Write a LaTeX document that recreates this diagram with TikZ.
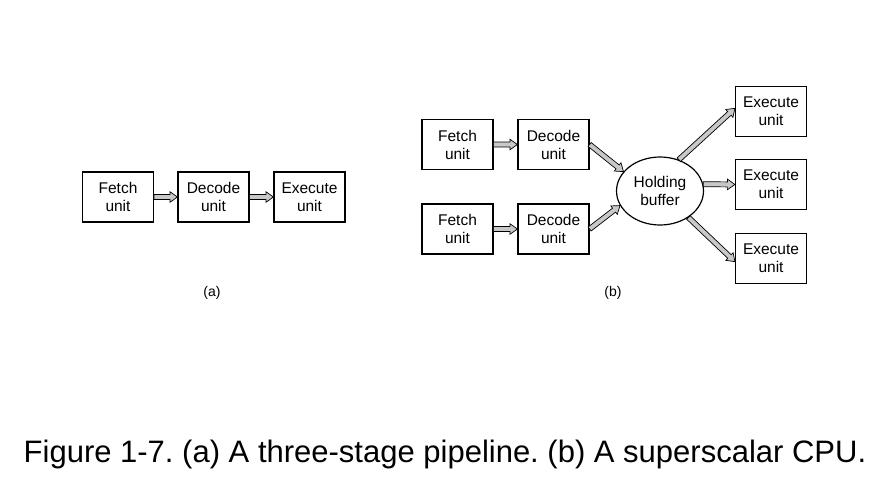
\documentclass[tikz,border=0pt]{standalone}
\usepackage{fontspec}
\setmainfont{Liberation Sans}
\usetikzlibrary{calc,shapes.geometric}
\definecolor{arrowgray}{RGB}{200,200,200}
\frenchspacing
\tikzset{
  unitbox/.style={draw=black, line width=1.2pt, minimum width=71pt, minimum height=50pt, inner sep=0pt, align=center, font=\fontsize{15.5}{18}\selectfont},
  holdell/.style={draw=black, line width=1.2pt, ellipse, minimum width=87pt, minimum height=68pt, inner sep=0pt, align=center, font=\fontsize{15.5}{18}\selectfont},
  sublabel/.style={font=\fontsize{14}{16}\selectfont},
  fat/.style={draw=black, fill=arrowgray, line width=0.7pt, line join=miter,
    to path={let \p1=(\tikztostart), \p2=(\tikztotarget), \n1={atan2(\y2-\y1,\x2-\x1)} in
      ($(\p1)+(\n1+90:2.5pt)$) -- ($(\p2)+(\n1+180:7.5pt)+(\n1+90:2.5pt)$) -- ($(\p2)+(\n1+180:7.5pt)+(\n1+90:5.3pt)$) -- (\p2)
      -- ($(\p2)+(\n1+180:7.5pt)+(\n1-90:5.3pt)$) -- ($(\p2)+(\n1+180:7.5pt)+(\n1-90:2.5pt)$) -- ($(\p1)+(\n1-90:2.5pt)$) -- cycle}}
}
\begin{document}
\begin{tikzpicture}[x=1pt,y=-1pt]
\useasboundingbox (0,0) rectangle (883,480);
% (a)
\node[unitbox] (fa) at (118,197) {Fetch\\unit};
\node[unitbox] (da) at (213.5,197) {Decode\\unit};
\node[unitbox] (ea) at (309.5,197) {Execute\\unit};
\draw[fat] (fa.east) to (da.west);
\draw[fat] (da.east) to (ea.west);
\node[sublabel] (la) at (212,293) {(a)};
% (b)
\node[unitbox] (f1) at (457.5,144.5) {Fetch\\unit};
\node[unitbox] (d1) at (553.5,144.5) {Decode\\unit};
\node[unitbox] (f2) at (457.5,229) {Fetch\\unit};
\node[unitbox] (d2) at (553.5,229) {Decode\\unit};
\node[holdell] (hb) at (660,191) {Holding\\buffer};
\node[unitbox] (e1) at (771,111.5) {Execute\\unit};
\node[unitbox] (e2) at (771,184.5) {Execute\\unit};
\node[unitbox] (e3) at (771,258.5) {Execute\\unit};
\draw[fat] (f1.east) to (d1.west);
\draw[fat] (f2.east) to (d2.west);
\draw[fat] (d1.east) to (hb.152);
\draw[fat] (d2.east) to (hb.200);
\draw[fat] (hb.59) to (e1.175);
\draw[fat] (hb.9) to (e2.west);
\draw[fat] (hb.-43) to (e3.185);
\node[sublabel] (lb) at (613,293) {(b)};
% caption
\node[anchor=base, font=\fontsize{31}{36}\selectfont, inner sep=0pt] (cap) at (445,462) {Figure 1-7. (a) A three-stage pipeline. (b) A superscalar CPU.};
\end{tikzpicture}
\end{document}
